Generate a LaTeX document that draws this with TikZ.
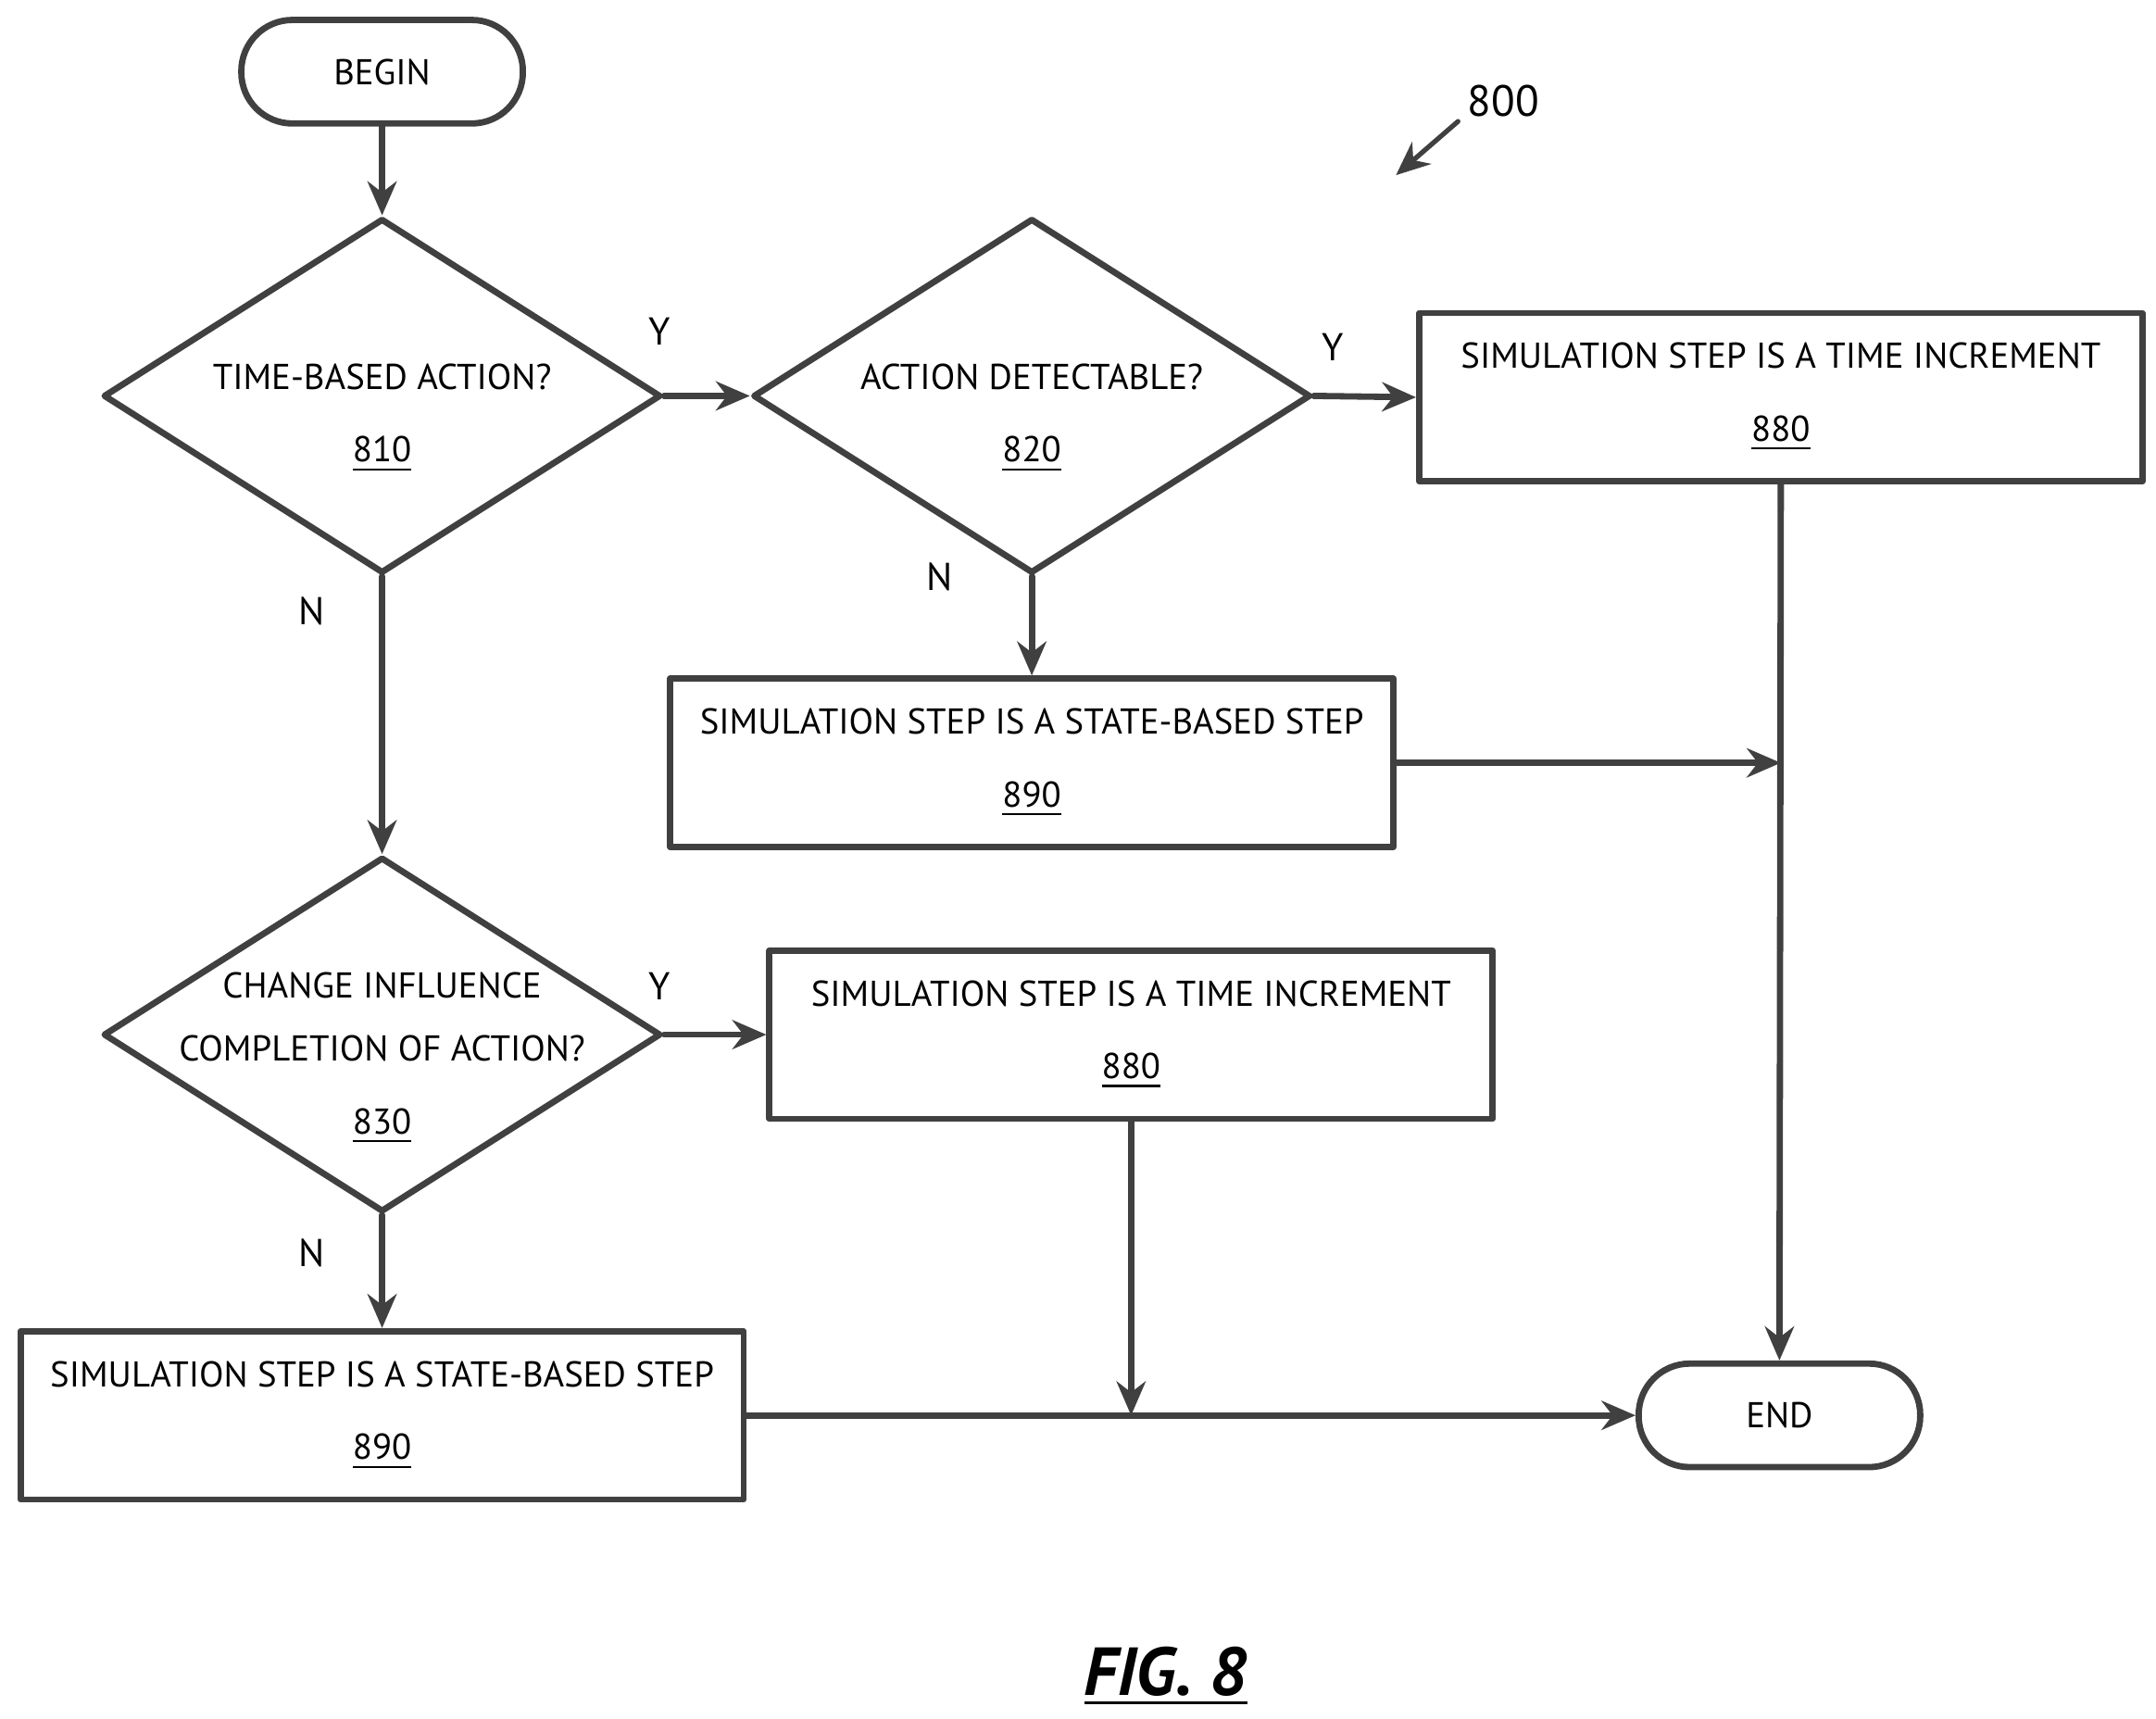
\documentclass[tikz,border=0pt]{standalone}
\usepackage{fontspec}
\setmainfont{PT Sans}
\usetikzlibrary{arrows.meta,shapes.geometric}
\definecolor{lnclr}{rgb}{0.25,0.25,0.25}
\tikzset{
  box/.style={draw=lnclr,line width=1.3pt,rectangle,minimum width=5.24cm,minimum height=1.22cm,align=center,inner sep=0pt},
  dec/.style={draw=lnclr,line width=1.3pt,diamond,minimum width=4.04cm,minimum height=2.57cm,inner sep=0pt},
  dtext/.style={align=center,inner sep=0pt},
  term/.style={draw=lnclr,line width=1.3pt,rectangle,rounded corners=0.37cm,minimum width=2.04cm,minimum height=0.75cm,inner sep=0pt},
  flow/.style={draw=lnclr,line width=1.3pt,-{Stealth[length=7pt,width=6pt]}},
  yn/.style={font=\fontsize{8}{10}\selectfont}
}
\begin{document}
\begin{tikzpicture}[x=0.01cm,y=-0.01cm,font=\fontsize{7.4}{11}\selectfont,line cap=round,line join=round]
\useasboundingbox (0,0) rectangle (1563,1246);
% terminals
\node[term] (begin) at (277,52) {BEGIN};
\node[term] (end) at (1290,1026) {END};
% decisions
\node[dec] (d810) at (277,287) {};
\node[dtext] (t810) at (277,303) {TIME-BASED ACTION?\\[4pt]\underline{810}};
\node[dec] (d820) at (748,287) {};
\node[dtext] (t820) at (748,303) {ACTION DETECTABLE?\\[4pt]\underline{820}};
\node[dec] (d830) at (277,750) {};
\node[dtext] (t830) at (277,767) {CHANGE INFLUENCE\\[2pt]COMPLETION OF ACTION?\\[4pt]\underline{830}};
% steps
\node[box] (s880a) at (1291,288) {SIMULATION STEP IS A TIME INCREMENT\\[4pt]\underline{880}};
\node[box] (s890a) at (748,553) {SIMULATION STEP IS A STATE-BASED STEP\\[4pt]\underline{890}};
\node[box] (s880b) at (820,750) {SIMULATION STEP IS A TIME INCREMENT\\[4pt]\underline{880}};
\node[box] (s890b) at (277,1026) {SIMULATION STEP IS A STATE-BASED STEP\\[4pt]\underline{890}};
% joins
\coordinate (j1) at (1291,553);
\coordinate (j2) at (820,1026);
% connectors
\draw[flow] (begin) -- (d810);
\draw[flow] (d810.east) -- (d820.west);
\draw[flow] (d820.east) -- (s880a.west);
\draw[flow] (d820.south) -- (s890a.north);
\draw[flow] (d810.south) -- (d830.north);
\draw[flow] (d830.east) -- (s880b.west);
\draw[flow] (d830.south) -- (s890b.north);
\draw[flow] (s880a.south) -- (end.north);
\draw[flow] (s890a.east) -- (j1);
\draw[flow] (s890b.east) -- (end.west);
\draw[flow] (s880b.south) -- (j2);
% branch labels
\node[yn] (y1) at (478,240) {Y};
\node[yn] (n1) at (226,443) {N};
\node[yn] (y2) at (966,252) {Y};
\node[yn] (n2) at (681,418) {N};
\node[yn] (y3) at (478,715) {Y};
\node[yn] (n3) at (226,908) {N};
% reference numeral
\node[font=\fontsize{9}{11}\selectfont] (ref) at (1090,73) {800};
\coordinate (reftip) at (1012,127);
\draw[flow,line width=1pt] (1057,88) -- (reftip);
\node[font=\bfseries\itshape\fontsize{14}{16}\selectfont] (fig) at (845,1215) {\underline{FIG. 8}};
\end{tikzpicture}
\end{document}
